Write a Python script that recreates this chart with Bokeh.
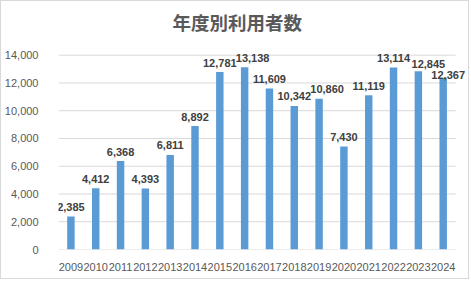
from bokeh.plotting import figure
from bokeh.models import ColumnDataSource, NumeralTickFormatter, FixedTicker
from bokeh.embed import file_html
from bokeh.resources import INLINE
from bokeh.core.properties import value

# ---- data ----
years = ["2009", "2010", "2011", "2012", "2013", "2014", "2015", "2016",
         "2017", "2018", "2019", "2020", "2021", "2022", "2023", "2024"]
users = [2385, 4412, 6368, 4393, 6811, 8892, 12781, 13138,
         11609, 10342, 10860, 7430, 11119, 13114, 12845, 12367]
y_ticks = [0, 2000, 4000, 6000, 8000, 10000, 12000, 14000]
title_text = "年度別利用者数"

# ---- label styling (pixel nudges, like Excel's collision avoidance) ----
label_dx = [0] * len(years)
label_dy = [-9.5] * len(years)
label_dx[years.index("2016")] = 8
label_dx[years.index("2019")] = 8
label_dx[years.index("2023")] = 10
label_dy[years.index("2023")] = -7
label_dx[years.index("2024")] = 5
label_dy[years.index("2024")] = -2.5

xs = list(range(len(years)))
src = ColumnDataSource(dict(
    x=xs, users=users,
    label=[f"{v:,}" for v in users],
    dx=label_dx, dy=label_dy,
))

y_top = y_ticks[-1]
# frame extended above the top tick and right of the last category so that
# data labels are not clipped; gridlines are drawn only over the plot area
p = figure(x_range=(-0.5, len(years) + 0.06), y_range=(0, y_top * 214 / 198),
           width=469, height=279,
           output_backend="svg", toolbar_location=None,
           min_border_left=55, min_border_right=1,
           min_border_top=34, min_border_bottom=31,
           styles={"border": "1px solid #d9d9d9"})

p.segment(x0=-0.5, x1=len(years) - 0.5, y0=y_ticks, y1=y_ticks,
          line_color="#d9d9d9", line_width=1)

p.vbar(x="x", top="users", width=0.3, source=src,
       fill_color="#5b9bd5", line_color=None)

p.text(x="x", y="users", text="label", source=src,
       x_offset="dx", y_offset="dy",
       text_align="center", text_baseline="alphabetic",
       text_font=value("Liberation Sans"), text_font_style="bold",
       text_font_size="11px", text_color="#404040")

p.title.text = title_text
p.title.align = "left"
p.title.offset = 114
p.title.text_font = "Noto Sans CJK JP"
p.title.text_font_style = "bold"
p.title.text_font_size = "18.5px"
p.title.text_color = "#595959"

p.outline_line_color = None
p.xgrid.grid_line_color = None
p.ygrid.grid_line_color = None

p.yaxis.ticker = FixedTicker(ticks=y_ticks)
p.yaxis.formatter = NumeralTickFormatter(format="0,0")
p.yaxis.axis_line_color = None
p.yaxis.major_tick_line_color = None
p.yaxis.minor_tick_line_color = None
p.yaxis.major_label_standoff = 14
p.yaxis.major_label_text_font = "Liberation Sans"
p.yaxis.major_label_text_font_size = "11px"
p.yaxis.major_label_text_color = "#595959"

p.xaxis.ticker = FixedTicker(ticks=xs)
p.xaxis.major_label_overrides = {i: y for i, y in zip(xs, years)}
p.xaxis.axis_line_color = None
p.xaxis.major_tick_line_color = None
p.xaxis.minor_tick_line_color = None
p.xaxis.major_label_standoff = 7
p.xaxis.major_label_text_font = "Liberation Sans"
p.xaxis.major_label_text_font_size = "11px"
p.xaxis.major_label_text_color = "#595959"

open("out.html", "w").write(file_html(p, INLINE))
